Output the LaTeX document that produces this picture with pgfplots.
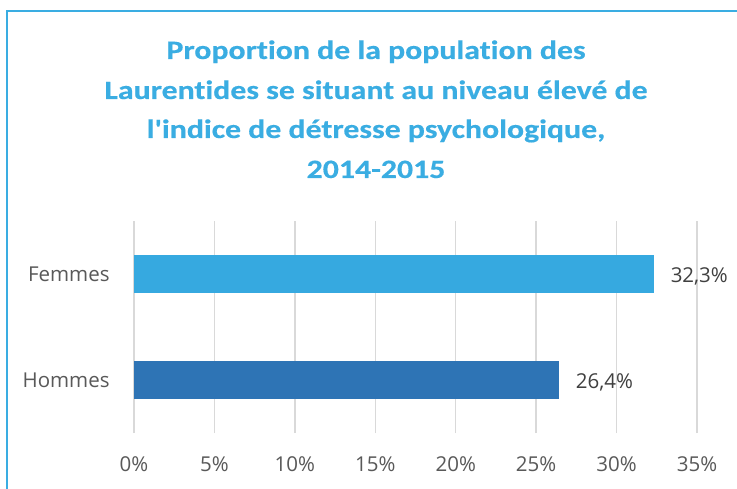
\documentclass[border=0pt]{standalone}
\usepackage{fontspec}
\setmainfont{Open Sans}
\newfontfamily\titlefont{Carlito}[RawFeature={-liga;-clig;-calt;-dlig}, BoldFeatures={RawFeature={-liga;-clig;-calt;-dlig}, FakeBold=0.4}]
\usepackage{pgfplots}
\pgfplotsset{compat=1.18}
\definecolor{titleblue}{RGB}{58,173,226}
\definecolor{femblue}{RGB}{54,169,224}
\definecolor{homblue}{RGB}{46,116,181}
\definecolor{gridgray}{RGB}{217,217,217}
\definecolor{ticktext}{RGB}{89,89,89}
\definecolor{valtext}{RGB}{64,64,64}
\begin{document}
\begin{tikzpicture}
\path[use as bounding box] (0,0) rectangle (737bp,489bp);
\fill[white] (0,0) rectangle (737bp,489bp);
\draw[titleblue, line width=2bp] (6.5bp,0) -- (6.5bp,478bp) -- (737bp,478bp);
\begin{scope}[every node/.style={inner sep=0pt, text=titleblue, font=\titlefont\bfseries\fontsize{26.5bp}{30bp}\selectfont}]
\node[anchor=base] at (376bp,430bp) {\scalebox{1.2}[1]{Proportion de la population des}};
\node[anchor=base] at (376bp,390bp) {\scalebox{1.2}[1]{Laurentides se situant au niveau élevé de}};
\node[anchor=base] at (376bp,351bp) {\scalebox{1.2}[1]{l'indice de détresse psychologique,}};
\node[anchor=base] at (376bp,311bp) {\scalebox{1.2}[1]{2014-2015}};
\end{scope}
\begin{axis}[
  at={(134bp,56bp)}, anchor=south west,
  scale only axis, width=563bp, height=212bp,
  xbar, bar width=38bp, bar shift=0pt,
  xmin=0, xmax=35, ymin=0.5, ymax=2.5,
  xtick={0,5,10,15,20,25,30,35},
  xticklabels={0\%,5\%,10\%,15\%,20\%,25\%,30\%,35\%},
  ytick={1,2}, yticklabels={Hommes,Femmes},
  axis line style={draw=none}, major tick style={draw=none},
  xmajorgrids, grid style={gridgray, line width=1.4bp},
  xticklabel style={anchor=base, yshift=-38bp, inner sep=0pt, text=ticktext, font=\fontsize{20.5bp}{24bp}\selectfont},
  yticklabel style={anchor=base east, xshift=-20bp, yshift=-7bp, inner sep=0pt, text=ticktext, font=\fontsize{20.5bp}{24bp}\selectfont},
  nodes near coords={\pgfmathprintnumber[fixed, fixed zerofill, precision=1, use comma, assume math mode=true]{\pgfplotspointmeta}\%},
  point meta=explicit,
  nodes near coords style={anchor=base west, xshift=17bp, yshift=-8bp, inner sep=0pt, text=valtext, font=\fontsize{20.5bp}{24bp}\selectfont},
  clip=false,
]
\addplot[draw=none, fill=homblue] coordinates {(26.4,1) [26.4]};
\addplot[draw=none, fill=femblue] coordinates {(32.3,2) [32.3]};
\end{axis}
\end{tikzpicture}
\end{document}
